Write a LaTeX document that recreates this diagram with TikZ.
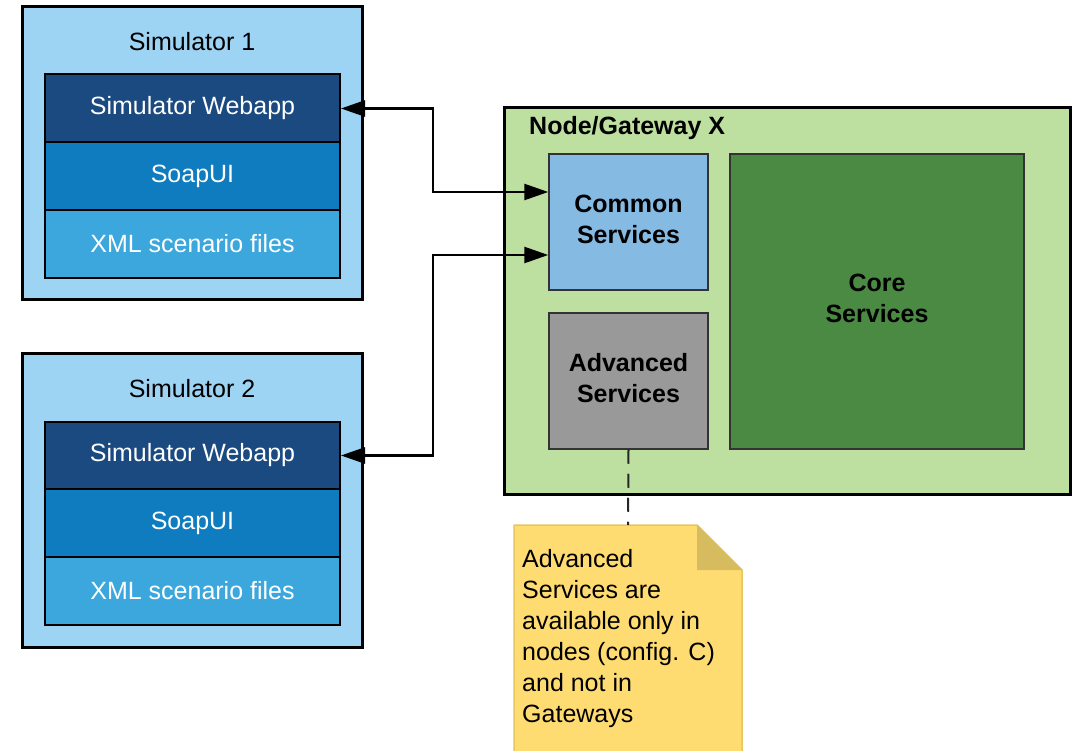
\documentclass[tikz,border=0pt]{standalone}
\usepackage{fontspec}
\setmainfont{Liberation Sans}
\usetikzlibrary{arrows.meta}
\definecolor{simbg}{HTML}{9DD3F3}
\definecolor{webapp}{HTML}{1A4A80}
\definecolor{soapui}{HTML}{0E7CBE}
\definecolor{xmlfiles}{HTML}{3BA7DD}
\definecolor{gwbg}{HTML}{BDE0A0}
\definecolor{commonsvc}{HTML}{85BAE3}
\definecolor{advsvc}{HTML}{999999}
\definecolor{coresvc}{HTML}{4A8A43}
\definecolor{notebg}{HTML}{FFDC71}
\definecolor{notefold}{HTML}{D6BC5E}
\definecolor{noteline}{HTML}{E6C65E}
\begin{document}
\begin{tikzpicture}[x=1pt,y=-1pt,
  font=\fontsize{25}{31}\selectfont,
  simbox/.style={draw=black,line width=3pt,fill=simbg,minimum width=340pt,minimum height=293pt,inner sep=0pt},
  layer/.style={draw=black,line width=2pt,minimum width=295pt,minimum height=68pt,text=white,inner sep=0pt},
  svc/.style={draw=black!80,line width=1.5pt,font=\fontsize{25}{31}\selectfont\bfseries,align=center,inner xsep=0pt,inner ysep=0pt,text depth=6pt},
  link/.style={line width=2.5pt,{Triangle[length=24pt,width=16pt]}-{Triangle[length=24pt,width=16pt]}}]
\useasboundingbox (0,0) rectangle (1074,751);
% simulators
\foreach \i/\dy in {1/0,2/347} {
  \node[simbox] (sim\i) at (192,153.5+\dy) {};
  \node[inner sep=0pt] (title\i) at (192,42+\dy) {Simulator \i};
  \node[layer,fill=webapp] (web\i) at (192.5,108.5+\dy) {Simulator Webapp};
  \node[layer,fill=soapui] (soap\i) at (192.5,176+\dy) {SoapUI};
  \node[layer,fill=xmlfiles] (xml\i) at (192.5,244+\dy) {XML scenario files};
}
% node / gateway
\node[draw=black,line width=3pt,fill=gwbg,minimum width=566pt,minimum height=386pt,inner sep=0pt] (gw) at (787,301) {};
\node[anchor=west,inner sep=0pt,font=\fontsize{25}{31}\selectfont\bfseries] (gwtitle) at (529,128) {Node/Gateway X};
\node[svc,fill=commonsvc,minimum width=159pt,minimum height=136pt] (common) at (628.5,222) {Common\\Services};
\node[svc,fill=advsvc,minimum width=159pt,minimum height=136pt] (adv) at (628.5,381) {Advanced\\Services};
\node[svc,fill=coresvc,minimum width=294pt,minimum height=295pt] (core) at (877,301.5) {Core\\Services};
% links
\draw[link] (web1.east) -- ++(92,0) |- ([yshift=30pt]common.west);
\draw[link] (web2.east) -- ++(92,0) |- ([yshift=-33pt]common.west);
% note
\coordinate (notetl) at (514,525);
\coordinate (notetop) at (628,525);
\filldraw[fill=notebg,draw=noteline,line width=1.5pt] (notetl) -- ++(183,0) -- ++(45,45) -- ++(0,200) -- ++(-228,0) -- cycle;
\fill[notefold] ([xshift=183pt]notetl) -- ++(0,45) -- ++(45,0) -- cycle;
\node[anchor=north west,align=left,inner xsep=8pt,inner ysep=0pt] (note) at ([yshift=-24pt]notetl)
  {Advanced\\Services are\\available only in\\nodes (config. C)\\and not in\\Gateways};
\draw[black!85,line width=2pt,dash pattern=on 14pt off 10pt] (adv.south) -- (notetop);
\end{tikzpicture}
\end{document}
